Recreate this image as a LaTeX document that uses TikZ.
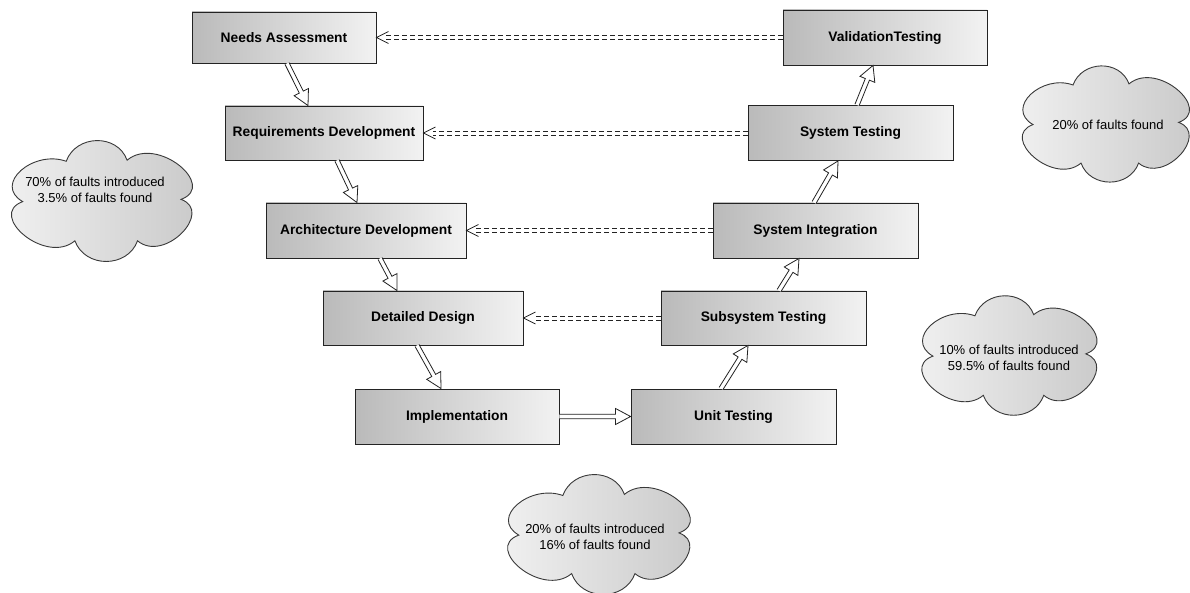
\documentclass[tikz,border=0pt]{standalone}
\usepackage{fontspec}
\setmainfont{Liberation Sans}
\usetikzlibrary{calc}

\definecolor{boxdark}{RGB}{186,186,186}
\definecolor{boxlight}{RGB}{242,242,242}
\definecolor{cloudlight}{RGB}{244,244,244}
\definecolor{clouddark}{RGB}{198,198,198}
\definecolor{ink}{RGB}{35,35,35}

\tikzset{
  stage/.style={draw=ink, line width=0.9pt, left color=boxdark, right color=boxlight,
    font=\fontsize{13.8}{16}\selectfont\bfseries, inner sep=0pt},
  note/.style={draw=ink!90, line width=0.9pt, left color=cloudlight, right color=clouddark},
  notetext/.style={font=\fontsize{13}{16}\selectfont, align=center, inner sep=0pt},
  trace/.style={draw=ink, line width=0.7pt, dash pattern=on 5pt off 3pt, shorten >=10pt},
  tracetip/.style={draw=ink, line width=0.8pt, line join=miter},
  flow/.style={draw=ink, line width=0.8pt, fill=white, line join=miter},
}

% hollow block arrow between two boundary points
\newcommand\flowarrow[2]{%
  \coordinate (fa) at (#1);
  \coordinate (fb) at (#2);
  \coordinate (fc) at ($(fb)!15pt!(fa)$);
  \filldraw[flow] ($(fa)!2.2pt!90:(fb)$) -- ($(fc)!2.2pt!90:(fb)$) -- ($(fc)!8pt!90:(fb)$)
    -- (fb) -- ($(fc)!8pt!-90:(fb)$) -- ($(fc)!2.2pt!-90:(fb)$) -- ($(fa)!2.2pt!-90:(fb)$);
}
% double dashed trace link from the west side of #1 to the east side of #2, with open tip
\newcommand\tracelink[2]{%
  \draw[trace] ([yshift=-1.9pt]#1.west) -- ([yshift=-1.9pt]#2.east);
  \draw[trace] ([yshift=1.9pt]#1.west) -- ([yshift=1.9pt]#2.east);
  \draw[tracetip] ([shift={(12pt,-6pt)}]#2.east) -- (#2.east) -- ([shift={(12pt,6pt)}]#2.east);
}
% puffy cloud outline in a unit box, centred on the origin
\newcommand\cloudoutline{%
  (-0.90,0.02) to[out=150,in=160,looseness=1.5] (-0.40,-0.70)
  to[out=70,in=110,looseness=1.2] (0.30,-0.72)
  to[out=40,in=20,looseness=1.5] (0.92,-0.02)
  to[out=-20,in=-40,looseness=1.5] (0.42,0.72)
  to[out=-110,in=-70,looseness=1.2] (-0.30,0.72)
  to[out=-140,in=-160,looseness=1.5] cycle
}

\begin{document}
\begin{tikzpicture}[x=1pt,y=-1pt]
\useasboundingbox (0,0) rectangle (1190,593);
\fill[white] (0,0) rectangle (1190,593);

% left branch of the V
\node[stage, minimum width=184pt, minimum height=51pt] (NA) at (284,37.5) {Needs Assessment};
\node[stage, minimum width=198pt, minimum height=54pt] (RD) at (324,133) {Requirements Development};
\node[stage, minimum width=200pt, minimum height=55pt] (AD) at (366,230.5) {Architecture Development};
\node[stage, minimum width=200pt, minimum height=54pt] (DD) at (423,318) {Detailed Design};
\node[stage, minimum width=204pt, minimum height=55pt] (IM) at (457,416.5) {Implementation};

% right branch of the V
\node[stage, minimum width=205pt, minimum height=55pt] (UT) at (733.5,416.5) {Unit Testing};
\node[stage, minimum width=205pt, minimum height=54pt] (SB) at (763.5,318) {Subsystem Testing};
\node[stage, minimum width=205pt, minimum height=55pt] (SI) at (815.5,230.5) {System Integration};
\node[stage, minimum width=205pt, minimum height=55pt] (ST) at (850.5,133) {System Testing};
\node[stage, minimum width=204pt, minimum height=55pt] (VT) at (885,37.5) {ValidationTesting};

% flow down and up the V
\flowarrow{[xshift=3pt]NA.south}{[xshift=-16pt]RD.north}
\flowarrow{[xshift=13pt]RD.south}{[xshift=-9pt]AD.north}
\flowarrow{[xshift=14pt]AD.south}{[xshift=-26pt]DD.north}
\flowarrow{[xshift=-6pt]DD.south}{[xshift=-16pt]IM.north}
\flowarrow{IM.east}{UT.west}
\flowarrow{[xshift=-12.5pt]UT.north}{[xshift=-15.5pt]SB.south}
\flowarrow{[xshift=15.5pt]SB.north}{[xshift=-16.5pt]SI.south}
\flowarrow{[xshift=-1.5pt]SI.north}{[xshift=-12.5pt]ST.south}
\flowarrow{[xshift=6.5pt]ST.north}{[xshift=-12pt]VT.south}

% verification links across the V
\tracelink{VT}{NA}
\tracelink{ST}{RD}
\tracelink{SI}{AD}
\tracelink{SB}{DD}

% fault statistics
\begin{scope}[shift={(101,200.5)}, x=87pt, y=-56pt]
  \path[note] \cloudoutline;
\end{scope}
\node[notetext] (T1) at (95,190) {70\% of faults introduced\\3.5\% of faults found};

\begin{scope}[shift={(1105,123.5)}, x=80pt, y=-55pt]
  \path[note] \cloudoutline;
\end{scope}
\node[notetext] (T2) at (1108,125) {20\% of faults found};

\begin{scope}[shift={(1008.5,355)}, x=84pt, y=-56pt]
  \path[note] \cloudoutline;
\end{scope}
\node[notetext] (T3) at (1009,357.5) {10\% of faults introduced\\59.5\% of faults found};

\begin{scope}[shift={(598,534)}, x=88pt, y=-55pt]
  \path[note] \cloudoutline;
\end{scope}
\node[notetext] (T4) at (595,536.5) {20\% of faults introduced\\16\% of faults found};
\end{tikzpicture}
\end{document}
